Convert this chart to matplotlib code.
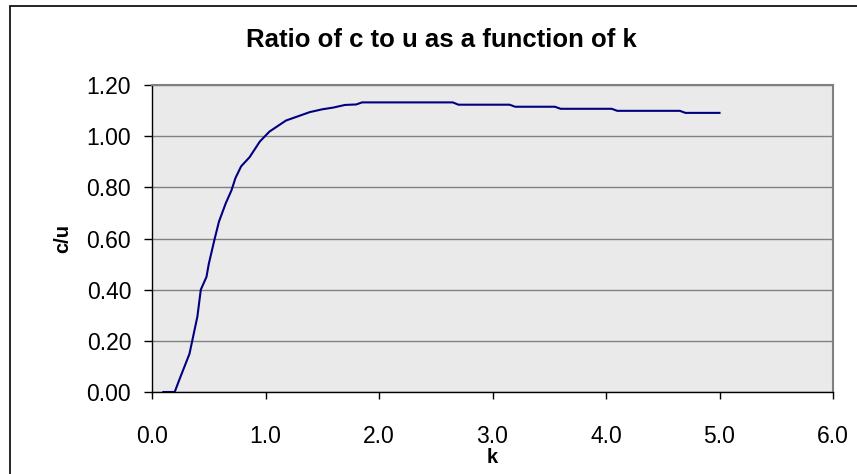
import matplotlib.pyplot as plt
from matplotlib.patches import Rectangle
from matplotlib.ticker import FormatStrFormatter

plt.rcParams['font.family'] = ['Liberation Sans', 'DejaVu Sans']

# k values and ratio c/u
k = [0.10, 0.20, 0.24, 0.33, 0.40, 0.43, 0.48, 0.50, 0.55, 0.59, 0.65, 0.70,
     0.735, 0.785, 0.86, 0.95, 1.035, 1.18, 1.39, 1.50, 1.60, 1.70, 1.80,
     1.85, 2.65, 2.70, 3.15, 3.20, 3.55, 3.60, 4.05, 4.10, 4.65, 4.70, 5.00]
cu = [0.00, 0.00, 0.047, 0.149, 0.295, 0.40, 0.45, 0.50, 0.595, 0.666, 0.738, 0.788,
      0.836, 0.882, 0.918, 0.979, 1.018, 1.061, 1.094, 1.105, 1.112, 1.122, 1.124,
      1.132, 1.132, 1.123, 1.123, 1.115, 1.115, 1.107, 1.107, 1.099, 1.099, 1.091, 1.091]

xticks = [0, 1, 2, 3, 4, 5, 6]
yticks = [0.0, 0.2, 0.4, 0.6, 0.8, 1.0, 1.2]

fig = plt.figure(figsize=(8.57, 4.74), dpi=100)
ax = fig.add_axes([152/857, 82/474, 681/857, 307/474])

# outer chart border (only left and top visible)
fig.patches.append(Rectangle((10/857, -0.5), 1.5, (474-5.5)/474 + 0.5,
                             transform=fig.transFigure, fill=False,
                             edgecolor='black', linewidth=1.2))

ax.set_facecolor('#eaeaea')
ax.plot(k, cu, color='#000080', linewidth=1.5)

ax.set_xlim(0, 6)
ax.set_ylim(0, 1.2)
ax.set_xticks(xticks)
ax.set_yticks(yticks)
ax.xaxis.set_major_formatter(FormatStrFormatter('%.1f'))
ax.yaxis.set_major_formatter(FormatStrFormatter('%.2f'))
ax.grid(axis='y', color='#808080', linewidth=1.0)
ax.set_axisbelow(True)

for s in ['top', 'right']:
    ax.spines[s].set_color('#808080')
    ax.spines[s].set_linewidth(1.5)
for s in ['left', 'bottom']:
    ax.spines[s].set_color('black')
    ax.spines[s].set_linewidth(1.0)

ax.tick_params(axis='x', direction='out', length=5, width=1, pad=19, labelsize=16.5)
ax.tick_params(axis='y', direction='out', length=6, width=1, pad=9, labelsize=16.5)

ax.set_xlabel('k', fontsize=14.5, fontweight='bold', labelpad=0)
ax.set_ylabel('c/u', fontsize=14.5, fontweight='bold', labelpad=10)

fig.text(441/857, 1 - 40/474, 'Ratio of c to u as a function of k',
         ha='center', va='center', fontsize=18.5, fontweight='bold')

plt.savefig('out.png', dpi=100)
